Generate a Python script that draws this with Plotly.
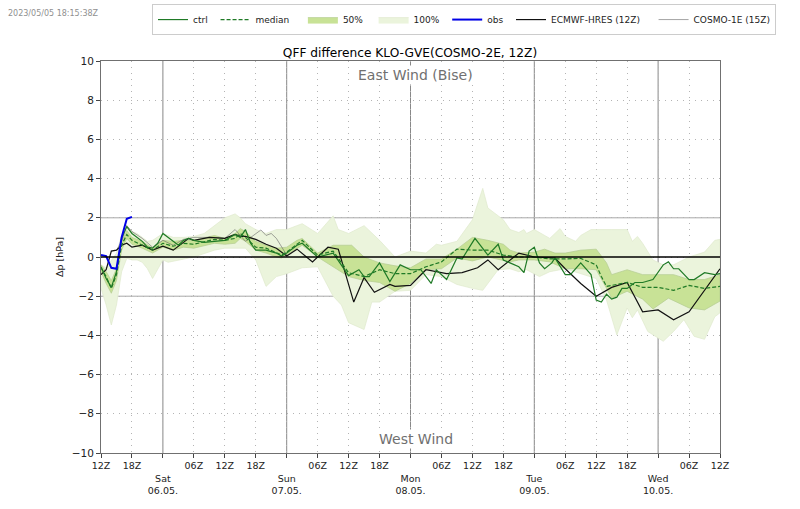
import plotly.graph_objects as go

FONT = "DejaVu Sans"

# hours since 05.05. 12Z
tick_hours = [0, 6, 18, 24, 30, 42, 48, 54, 66, 72, 78, 90, 96, 102, 114, 120, 12, 36, 60, 84, 108]
tick_text = ["12Z", "18Z", "06Z", "12Z", "18Z", "06Z", "12Z", "18Z", "06Z", "12Z", "18Z", "06Z", "12Z", "18Z", "06Z", "12Z",
             " <br>Sat<br>06.05.", " <br>Sun<br>07.05.", " <br>Mon<br>08.05.", " <br>Tue<br>09.05.", " <br>Wed<br>10.05."]
day_hours = [12, 36, 60, 84, 108]
y_ticks = [-10, -8, -6, -4, -2, 0, 2, 4, 6, 8, 10]

max_h = [0, 1, 3, 4, 5, 6, 7, 8, 9, 10, 12, 14, 16, 18, 20, 22, 24, 26, 27, 28, 30, 32, 34, 36, 38, 39, 42, 45, 46, 48,
         51, 54, 57, 60, 63, 65, 66, 69, 72, 74, 75, 78, 79.3, 81, 82, 82.5, 84, 87, 89, 90, 92, 93, 95, 99, 102, 103,
         104, 105, 107, 109, 111, 114, 117, 119, 120]
max_v = [-0.4, -0.55, 0.2, 1.1, 1.6, 1.3, 1.2, 1.0, 0.8, 0.85, 1.2, 1.0, 1.0, 1.05, 1.2, 1.6, 2.0, 2.2, 2.0, 1.7, 1.4,
         1.2, 1.4, 1.4, 1.6, 1.7, 1.2, 2.1, 1.4, 1.2, 1.6, 0.85, 0.0, 0.3, 0.2, 0.65, 0.6, 0.8, 1.9, 3.5, 2.5, 1.9,
         1.4, 1.25, 1.4, 1.2, 1.4, 0.95, 1.45, 1.05, 0.8, 1.1, 1.4, 1.4, 1.4, 0.8, 1.05, 0.7, -0.15, -0.4, -0.4, 0.0,
         0.25, 0.85, 0.9]
min_h = [0, 1, 2, 3, 4, 5, 6, 7, 8, 9, 10, 11, 12, 13, 15, 18, 22, 24, 28, 30, 32, 34, 36, 38, 39, 42, 45, 46.6, 48, 51,
         52.5, 54, 57, 60, 63, 66, 69, 72, 74, 77, 79.3, 81, 82.5, 85, 87, 90, 93, 96, 98, 100, 102, 103, 104, 106, 109,
         111, 113, 115, 117, 119, 120]
min_v = [-1.6, -2.45, -3.47, -2.45, -0.75, -0.07, -0.15, -0.15, -0.27, -0.6, -1.1, -0.6, -0.15, -0.27, -0.15, 0.0, 0.35,
         0.45, 0.45, -0.15, -1.5, -1.0, -0.85, -0.65, -0.55, -0.5, -2.0, -2.45, -3.35, -3.7, -2.3, -2.3, -1.75, -1.7,
         -0.9, -1.0, -1.4, -1.6, -1.7, -0.65, -0.6, -0.75, -0.65, -1.0, -0.75, -0.6, -0.85, -1.1, -2.2, -3.98, -2.6,
         -3.1, -2.7, -3.8, -4.3, -3.8, -3.2, -4.05, -4.2, -3.05, -2.85]
q75_h = [0, 1, 2, 3, 4, 5, 6, 8, 10, 12, 14, 16, 18, 22, 24, 26, 27, 28, 30, 32, 34, 36, 38, 39, 42, 45, 48.6, 51, 54, 57,
         60, 63, 66, 69, 72, 75, 78, 79.3, 81, 84, 86, 88, 90, 93, 96, 98, 99, 102, 105, 108, 111, 114, 117, 120]
q75_v = [-0.4, -0.75, -1.2, -0.6, 0.8, 1.35, 1.0, 0.8, 0.45, 0.85, 0.8, 0.85, 0.85, 1.1, 0.95, 1.2, 1.45, 1.3, 0.8, 0.6,
         0.45, 0.5, 0.85, 0.95, 0.2, 0.6, 0.6, 0.0, -0.3, -0.45, -0.55, -0.1, -0.1, 0.4, 1.0, 0.85, 0.65, 0.35, 0.2,
         0.25, 0.4, 0.2, 0.2, 0.35, 0.4, -0.3, -0.9, -0.65, -0.9, -0.9, -0.9, -1.15, -1.15, -0.9]
q25_h = [0, 1, 2, 3, 4, 5, 6, 8, 10, 12, 14, 16, 18, 22, 24, 26, 27, 28, 30, 32, 34, 35, 36, 38, 39, 42, 45, 48, 51, 54,
         57, 60, 63, 66, 69, 72, 75, 78, 79.3, 81, 84, 87, 90, 93, 96, 98, 99, 102, 105, 107, 110, 114, 117, 120]
q25_v = [-0.75, -1.35, -1.85, -1.2, 0.35, 0.95, 0.65, 0.45, 0.2, 0.5, 0.35, 0.5, 0.45, 0.7, 0.65, 0.7, 0.95, 0.8, 0.35,
         0.2, 0.0, -0.05, 0.1, 0.45, 0.6, 0.0, -0.5, -1.0, -1.2, -1.3, -1.75, -1.35, -0.65, -0.6, -0.05, -0.2, 0.0, -0.15,
         -0.25, -0.15, -0.15, -0.25, -0.6, -0.6, -0.65, -1.6, -2.1, -1.75, -2.15, -2.65, -2.1, -2.6, -2.7, -2.25]
med_h = [0, 1, 2, 3, 4, 5, 6, 8, 9, 10, 12, 14, 16, 18, 22, 24, 26, 27, 28, 30, 32, 34, 35, 36, 38, 39, 42, 45, 48, 51, 54,
         57, 60, 63, 66, 69, 72, 75, 78, 81, 84, 87, 90, 93, 96, 97, 98, 102, 105, 108, 111, 114, 117, 120]
med_v = [-0.55, -1.0, -1.6, -0.9, 0.6, 1.15, 0.85, 0.6, 0.5, 0.35, 0.7, 0.55, 0.7, 0.65, 0.9, 0.85, 0.95, 1.2, 1.0, 0.5,
         0.45, 0.2, 0.1, 0.25, 0.65, 0.85, 0.1, 0.3, -0.8, -1.0, -0.65, -0.85, -0.85, -0.5, -0.25, 0.4, 0.35, 0.35, 0.1,
         0.0, 0.0, -0.1, -0.1, -0.07, -0.4, -1.0, -1.5, -1.3, -1.55, -1.55, -1.7, -1.45, -1.6, -1.5]
ctrl_h = [0, 1, 2, 3, 4, 5, 6, 7, 8, 9, 10, 11, 12, 14, 15, 16, 17, 18, 20, 22, 24, 26, 27, 28, 29, 30, 32, 34, 35, 36, 38,
          39, 42, 45, 48, 50, 51, 52, 54, 56, 58, 60, 62, 64, 65, 67, 69, 70, 72.5, 75, 77, 78, 81, 82, 83, 84, 85, 86,
          87.4, 88, 90, 91, 93, 95, 96, 97, 98, 99, 100, 101, 102, 103.5, 105, 107, 109, 110, 111, 112, 114, 115, 117, 119,
          120]
ctrl_v = [-0.5, -1.1, -1.55, -0.75, 0.95, 1.55, 1.2, 1.0, 0.8, 0.5, 0.45, 0.7, 1.2, 0.8, 0.6, 0.85, 0.95, 0.85, 0.75,
          0.8, 0.85, 1.15, 1.0, 1.4, 0.7, 0.35, 0.35, 0.2, 0.05, 0.2, 0.6, 0.7, 0.0, 0.2, -0.95, -0.65, -1.0, -1.0, -0.3,
          -1.25, -0.4, -0.65, -0.65, -1.35, -0.65, -1.15, -0.05, -0.1, 0.95, 0.1, 0.65, -0.15, -0.5, -0.8, 0.3, 0.5,
          -0.3, -0.6, -0.3, -0.05, -0.9, -0.9, -0.3, -0.9, -2.2, -2.3, -1.9, -2.15, -2.05, -1.6, -1.6, -1.3, -1.3, -1.15,
          -0.4, -0.25, -0.6, -0.6, -1.15, -1.15, -0.8, -0.9, -0.85]
ecmwf_h = [0, 1, 2, 3, 4, 5, 6, 8, 10, 12, 14, 15, 17, 18, 21, 24, 26, 27, 28, 30, 32, 34, 36, 38, 41, 44, 46, 49, 51, 53,
           56, 57, 60, 63, 67, 70, 73, 75, 77, 81, 84, 88, 90, 93, 96, 99, 102, 105, 108, 111, 114, 120]
ecmwf_v = [-0.9, -0.65, 0.3, 0.35, 0.6, 0.7, 0.5, 0.6, 0.35, 0.55, 0.35, 0.55, 0.95, 0.85, 1.0, 0.95, 1.15, 1.05, 1.05,
           0.9, 0.65, 0.45, 0.05, 0.4, -0.25, 0.5, 0.4, -2.3, -1.05, -1.8, -1.4, -1.5, -1.45, -0.65, -0.85, -0.8, -0.55,
           -0.15, -0.65, 0.2, 0.0, -0.05, -0.6, -1.35, -2.0, -1.55, -1.3, -2.8, -2.7, -3.2, -2.8, -0.6]
cosmo_h = [3, 4, 5, 6, 8, 10, 12, 14, 16, 18, 20, 22, 24, 26, 28, 31, 32, 33, 34, 36]
cosmo_v = [0.35, 0.8, 1.6, 1.3, 0.95, 0.5, 0.85, 0.6, 0.9, 1.0, 1.0, 1.0, 0.95, 1.4, 0.8, 1.38, 1.1, 1.2, 0.95, 0.1]
obs_h = [0, 1, 2, 3, 4, 5, 6]
obs_v = [0.1, 0.05, -0.55, -0.6, 1.0, 1.95, 2.05]

fig = go.Figure()

for y in [-2, 2]:
    fig.add_hline(y=y, line=dict(color="#a8a8a8", width=1), layer="below")
for d in day_hours:
    fig.add_vline(x=d, line=dict(color="#888888", width=1), layer="below")

fig.add_trace(go.Scatter(x=min_h + max_h[::-1], y=min_v + max_v[::-1], mode="lines", fill="toself", name="100%&nbsp;",
                         fillcolor="#ebf4dc", line=dict(color="#dfeacd", width=0.7), legendrank=4))
fig.add_trace(go.Scatter(x=q25_h + q75_h[::-1], y=q25_v + q75_v[::-1], mode="lines", fill="toself", name="50%&nbsp;&nbsp;",
                         fillcolor="#c8e296", line=dict(color="#b3cc90", width=0.7), legendrank=3))
fig.add_trace(go.Scatter(x=cosmo_h, y=cosmo_v, mode="lines", name="COSMO-1E (15Z)",
                         line=dict(color="#666666", width=0.6), legendrank=7))
fig.add_trace(go.Scatter(x=ecmwf_h, y=ecmwf_v, mode="lines", name="ECMWF-HRES (12Z)&nbsp;&nbsp;&nbsp;",
                         line=dict(color="#111111", width=1.2), legendrank=6))
fig.add_trace(go.Scatter(x=ctrl_h, y=ctrl_v, mode="lines", name="ctrl&nbsp;",
                         line=dict(color="#1f7a26", width=1.2), legendrank=1))
fig.add_trace(go.Scatter(x=med_h, y=med_v, mode="lines", name="median&nbsp;&nbsp;&nbsp;",
                         line=dict(color="#1f7a26", width=1.2, dash="4px,2px"), legendrank=2))
fig.add_trace(go.Scatter(x=obs_h, y=obs_v, mode="lines", name="obs&nbsp;",
                         line=dict(color="#0000e6", width=2), legendrank=5))

fig.add_hline(y=0, line=dict(color="black", width=1.5), layer="above")

fig.add_annotation(text="East Wind (Bise)", x=61, y=9.28, showarrow=False, bgcolor="white",
                   font=dict(size=14, color="#707070"))
fig.add_annotation(text="West Wind", x=61, y=-9.28, showarrow=False, bgcolor="white",
                   font=dict(size=14, color="#707070"))
fig.add_annotation(text="2023/05/05 18:15:38Z", xref="paper", yref="paper", x=-0.154, y=1.137, xanchor="left",
                   showarrow=False, font=dict(size=8, color="#909090"))

fig.update_xaxes(range=[0, 120], tickmode="array", tickvals=tick_hours, ticktext=tick_text, tickangle=0,
                 ticks="outside", ticklen=4, tickcolor="#444444", tickfont=dict(size=9.5, color="#222222"),
                 showgrid=True, gridcolor="#b4b4b4", griddash="1px,5px", gridwidth=1, zeroline=False,
                 showline=True, mirror=True, linecolor="#707070", linewidth=1)
fig.update_yaxes(range=[-10, 10], tickmode="array", tickvals=y_ticks, ticks="outside", ticklen=4,
                 tickcolor="#444444", tickfont=dict(size=10.5, color="#222222"),
                 title=dict(text="Δp [hPa]", font=dict(size=9.5, color="#222222"), standoff=6),
                 showgrid=True, gridcolor="#b4b4b4", griddash="1px,5px", gridwidth=1, zeroline=False,
                 showline=True, mirror=True, linecolor="#707070", linewidth=1)

fig.update_layout(
    width=800, height=509, template="none", paper_bgcolor="white", plot_bgcolor="white",
    font=dict(family=FONT, color="#222222"),
    margin=dict(l=101, r=80, t=61, b=56),
    title=dict(text="QFF difference KLO-GVE(COSMO-2E, 12Z)", x=0.5125, xanchor="center", y=0.897, yanchor="middle",
               font=dict(size=12.2, color="black")),
    legend=dict(orientation="h", x=0.19, y=0.992, xref="container", yref="container", xanchor="left", yanchor="top",
                bordercolor="#cccccc", borderwidth=1, font=dict(size=9, color="#222222"), bgcolor="white",
                traceorder="normal"),
)

# page margin off so the figure sits at the window corner
fig.write_html("out.html", config=dict(displayModeBar=False), post_script="document.body.style.margin='0';")
